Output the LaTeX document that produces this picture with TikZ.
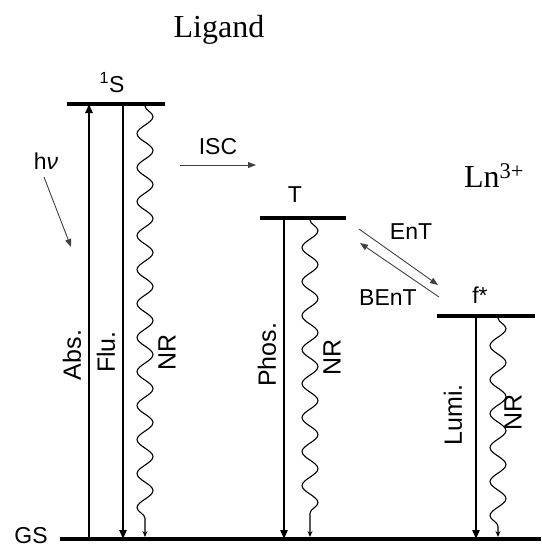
\documentclass[tikz,border=0pt]{standalone}
\usepackage{fontspec}
\setmainfont{Liberation Serif}
\setsansfont{Liberation Sans}
\usetikzlibrary{arrows.meta,decorations.pathmorphing}
\begin{document}
\begin{tikzpicture}[x=1pt,y=-1pt,
  level/.style={line width=4pt},
  trans/.style={line width=2.2pt, -{Triangle[length=9pt,width=7pt]}},
  nonrad/.style={line width=1.1pt, decorate, decoration={snake, amplitude=8pt, segment length=34pt, post length=8pt}, -{Stealth[length=6pt,width=5pt]}},
  thinarr/.style={line width=0.9pt, black!75, -{Triangle[length=8pt,width=6pt]}},
  lab/.style={font=\sffamily\fontsize{23}{25}\selectfont, inner sep=0pt},
  vlab/.style={font=\sffamily\fontsize{25}{27}\selectfont, inner sep=0pt, rotate=90},
  big/.style={font=\fontsize{32}{36}\selectfont, inner sep=0pt}]
\useasboundingbox (0,0) rectangle (541,549);
% level heights
\coordinate (S1) at (0,104);
\coordinate (T1) at (0,218);
\coordinate (F1) at (0,316);
\coordinate (G0) at (0,539);
% transition x positions
\coordinate (xAbs) at (89,0);
\coordinate (xFlu) at (123,0);
\coordinate (xNRs) at (145,0);
\coordinate (xPho) at (284,0);
\coordinate (xNRt) at (310,0);
\coordinate (xLum) at (476,0);
\coordinate (xNRf) at (498,0);
% transitions
\draw[trans] (xAbs |- G0) -- (xAbs |- S1);
\draw[trans] (xFlu |- S1) -- (xFlu |- G0);
\draw[nonrad] ([yshift=-2pt]xNRs |- S1) -- ([yshift=2pt]xNRs |- G0);
\draw[trans] (xPho |- T1) -- (xPho |- G0);
\draw[nonrad] ([yshift=-2pt]xNRt |- T1) -- ([yshift=2pt]xNRt |- G0);
\draw[trans] (xLum |- F1) -- (xLum |- G0);
\draw[nonrad] ([yshift=-2pt]xNRf |- F1) -- ([yshift=2pt]xNRf |- G0);
% levels
\coordinate (S1a) at (67,104); \coordinate (S1b) at (165,104);
\coordinate (T1a) at (260,218); \coordinate (T1b) at (346,218);
\coordinate (F1a) at (437,316); \coordinate (F1b) at (535,316);
\coordinate (G0a) at (60,539); \coordinate (G0b) at (541,539);
\draw[level] (S1a) -- (S1b);
\draw[level] (T1a) -- (T1b);
\draw[level] (F1a) -- (F1b);
\draw[level] (G0a) -- (G0b);
% thin arrows
\coordinate (hvA) at (44,177); \coordinate (hvB) at (71,247);
\coordinate (iscA) at (180,165); \coordinate (iscB) at (256,165);
\coordinate (entA) at (359,229); \coordinate (entB) at (438,285);
\coordinate (bentA) at (439,297); \coordinate (bentB) at (360,243);
\draw[thinarr] (hvA) -- (hvB);
\draw[thinarr] (iscA) -- (iscB);
\draw[thinarr] (entA) -- (entB);
\draw[thinarr] (bentA) -- (bentB);
% labels
\node[big, anchor=base] (lig) at (219,37) {Ligand};
\node[big] (ln) at (494,176) {Ln\textsuperscript{3+}};
\node[lab] (s1l) at (112,83) {\textsuperscript{1}S};
\node[lab] (tl) at (295,195) {T};
\node[lab] (fl) at (480,295) {f*};
\node[lab, anchor=base] (gsl) at (31,543) {GS};
\node[lab] (hvl) at (46,161) {h\textit{ν}};
\node[lab] (iscl) at (218,147) {ISC};
\node[lab] (entl) at (411,232) {EnT};
\node[lab] (bentl) at (388,298) {BEnT};
\node[vlab] (absl) at (72,355) {Abs.};
\node[vlab] (flul) at (106,352) {Flu.};
\node[vlab] (nrsl) at (167,352) {NR};
\node[vlab] (phol) at (267,355) {Phos.};
\node[vlab] (nrtl) at (332,357) {NR};
\node[vlab] (luml) at (453,415) {Lumi.};
\node[vlab] (nrfl) at (513,412) {NR};
\end{tikzpicture}
\end{document}
